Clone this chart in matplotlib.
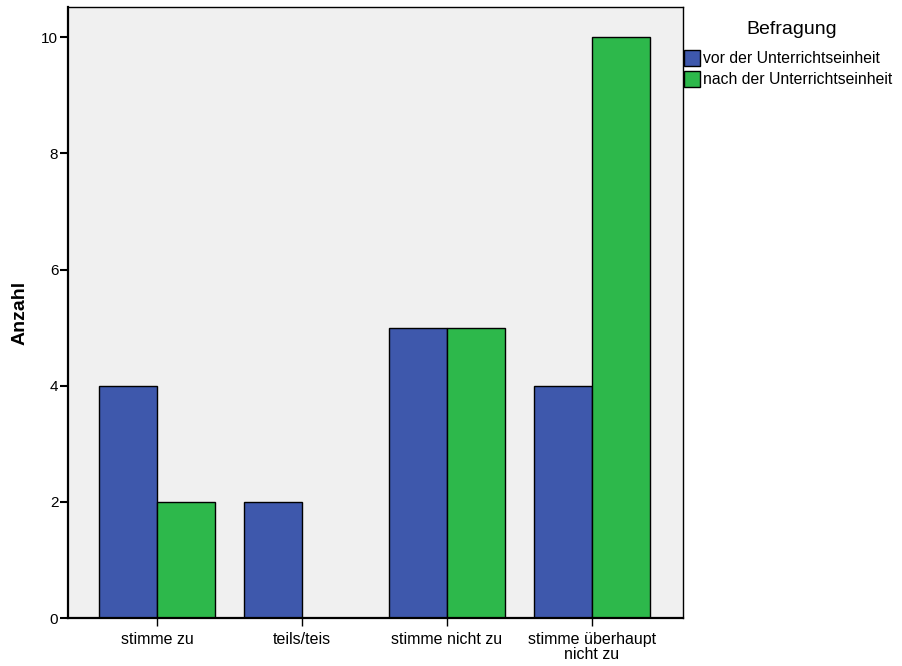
import matplotlib.pyplot as plt
import numpy as np
from matplotlib.patches import Patch

plt.rcParams['font.family'] = ['Liberation Sans', 'DejaVu Sans']

categories = ["stimme zu", "teils/teis", "stimme nicht zu", "stimme überhaupt\nnicht zu"]
vor = [4, 2, 5, 4]
nach = [2, 0, 5, 10]
series_names = ["vor der Unterrichtseinheit", "nach der Unterrichtseinheit"]
colors = ["#3e58ac", "#2db84b"]

fig = plt.figure(figsize=(9.03, 6.66), dpi=100)
ax = fig.add_axes([68 / 903, 48 / 666, 615 / 903, 611 / 666])
ax.set_facecolor("#f0f0f0")

x = np.arange(len(categories))
w = 0.403
ax.bar(x - w / 2, vor, w, color=colors[0], edgecolor="black", linewidth=1)
ax.bar(x + w / 2, nach, w, color=colors[1], edgecolor="black", linewidth=1)

ax.set_xlim(-0.614, 3.628)
ax.set_ylim(0, 10.52)
ax.set_yticks([0, 2, 4, 6, 8, 10])
ax.set_xticks(x)
ax.set_xticklabels(categories, fontsize=11.5, linespacing=1.05)
ax.tick_params(axis="y", labelsize=11, length=6, width=1.5, pad=1)
ax.tick_params(axis="x", length=6, width=1, pad=4)
ax.set_ylabel("Anzahl", fontsize=14, fontweight="bold", labelpad=9)
for s in ["left", "bottom"]:
    ax.spines[s].set_linewidth(1.6)
for s in ["top", "right"]:
    ax.spines[s].set_linewidth(1.0)

fig.text(792 / 903, 1 - 30 / 666, "Befragung", fontsize=14, ha="center", va="center")
handles = [Patch(facecolor=c, edgecolor="black", linewidth=1) for c in colors]
fig.legend(handles, series_names, loc="upper left", bbox_to_anchor=(681 / 903, 1 - 47 / 666),
           frameon=False, fontsize=11.3, handlelength=1.0, handleheight=1.15,
           handletextpad=0.2, labelspacing=0.3, borderaxespad=0, borderpad=0.2)

fig.savefig("out.png", dpi=100)
